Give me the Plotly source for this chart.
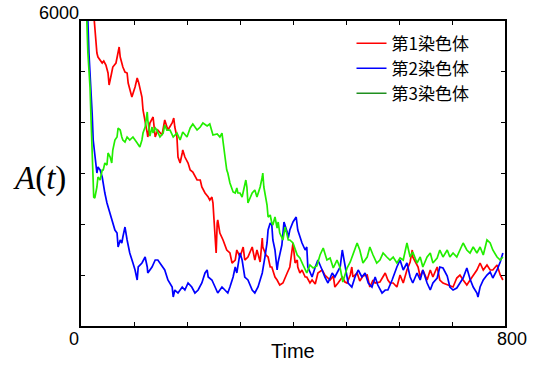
import plotly.graph_objects as go

# ---- data ----
red_t = [22, 26, 30, 32, 36, 40, 43, 47, 51, 53, 57, 60, 66, 70, 72, 74, 79, 83, 87, 89,
         92, 96, 102, 106, 109, 115, 117, 121, 125, 126, 130, 136, 140, 145, 153, 158, 164, 172, 175, 177,
         181, 183, 187, 191, 192, 196, 202, 206, 211, 219, 225, 228, 234, 240, 243, 247, 249, 251, 255, 257,
         258, 262, 268, 275, 281, 285, 291, 294, 300, 306, 309, 315, 323, 328, 332, 338, 342, 343, 349, 353,
         357, 360, 366, 370, 375, 381, 385, 389, 394, 400, 404, 408, 409, 413, 417, 423, 426, 432, 436, 442,
         447, 455, 460, 464, 470, 476, 479, 485, 493, 498, 502, 508, 511, 513, 521, 526, 532, 540, 545, 551,
         555, 564, 574, 579, 583, 589, 596, 602, 608, 615, 621, 625, 626, 636, 640, 645, 653, 659, 664, 672,
         677, 683, 693, 702, 709, 715, 721, 728, 738, 747, 753, 759, 766, 772, 777, 785, 791, 796]
red_a = [6400, 5823, 5370, 5291, 5232, 5173, 5213, 5134, 4977, 4741, 4937, 5095, 5173, 5370, 5488, 5291, 5095, 4996, 4977, 4780,
         4642, 4504, 4701, 4878, 4780, 4504, 4249, 4052, 3796, 3718, 3993, 4111, 3718, 3855, 3757, 4052, 3855, 3993, 4091, 3914,
         3718, 3324, 3206, 3403, 3462, 3324, 3206, 3069, 3029, 2872, 2872, 2734, 2616, 2537, 2478, 2537, 2419, 2085, 1436, 2026,
         2085, 1829, 1692, 1495, 1436, 1239, 1298, 1495, 1357, 1554, 1298, 1357, 1554, 1298, 1495, 1259, 1731, 1554, 1397, 1357,
         1161, 1161, 964, 905, 806, 846, 964, 1043, 1161, 1633, 1239, 1298, 1161, 1043, 1102, 964, 964, 846, 905, 826,
         1043, 1102, 1003, 964, 905, 984, 767, 846, 964, 866, 846, 1003, 1161, 964, 1043, 885, 984, 1003, 767, 905,
         846, 866, 1043, 905, 846, 846, 767, 1003, 846, 1102, 1259, 1495, 1357, 1161, 964, 1102, 905, 1102, 964, 1161,
         905, 846, 806, 767, 944, 1003, 905, 806, 964, 1102, 1239, 1102, 1200, 1102, 1102, 1200, 1003, 905]

blue_t = [9, 13, 15, 19, 21, 23, 25, 26, 30, 32, 36, 40, 43, 45, 49, 51, 55, 58, 60, 64,
          68, 70, 74, 77, 79, 83, 87, 89, 92, 98, 102, 106, 108, 115, 121, 125, 126, 134, 140, 145,
          153, 158, 164, 172, 174, 177, 183, 191, 196, 202, 209, 215, 221, 228, 234, 238, 240, 247, 253, 258,
          266, 272, 277, 281, 287, 291, 294, 300, 304, 306, 309, 315, 323, 328, 334, 338, 342, 347, 351, 353,
          357, 360, 362, 366, 370, 372, 375, 379, 383, 389, 391, 394, 400, 406, 409, 417, 423, 426, 428, 436,
          442, 447, 455, 460, 466, 474, 479, 489, 493, 498, 504, 511, 517, 523, 530, 536, 542, 549, 555, 560,
          568, 574, 579, 587, 592, 596, 602, 608, 615, 621, 626, 634, 640, 645, 653, 659, 664, 672, 677, 683,
          691, 696, 702, 709, 715, 721, 728, 734, 740, 747, 749, 753, 759, 766, 772, 777, 785, 791, 796]
blue_a = [6400, 6000, 5370, 4701, 4190, 3659, 3462, 3265, 3010, 3128, 3069, 2931, 2675, 2616, 2419, 2341, 2223, 2085, 2026, 1888,
          1829, 1554, 1692, 1633, 1751, 1947, 1692, 1554, 1436, 1239, 1102, 905, 1161, 1239, 1357, 1161, 1043, 1161, 1298, 1298,
          1161, 1102, 905, 767, 570, 708, 649, 767, 708, 846, 767, 649, 708, 846, 1043, 1102, 964, 905, 767, 649,
          767, 708, 649, 767, 964, 1161, 1043, 1436, 1298, 1161, 964, 905, 708, 649, 767, 905, 1043, 1357, 1633, 1888,
          2026, 1987, 1692, 1495, 1102, 1259, 1397, 1593, 2046, 1849, 1731, 1888, 2046, 2144, 1888, 1633, 1495, 1554, 1161, 964,
          1161, 1298, 1102, 964, 846, 1043, 964, 1161, 1495, 1161, 846, 767, 964, 1102, 964, 1043, 846, 767, 964, 806,
          649, 708, 708, 905, 1062, 1161, 1298, 1102, 1239, 964, 846, 1043, 905, 1102, 846, 708, 846, 944, 1161, 1141,
          984, 767, 708, 747, 846, 944, 1141, 925, 767, 649, 570, 767, 905, 1003, 1062, 944, 1102, 1259, 1436]

green_t = [6, 11, 13, 17, 19, 21, 23, 24, 26, 30, 32, 36, 40, 42, 45, 49, 51, 55, 58, 60,
           64, 68, 70, 74, 77, 79, 83, 87, 92, 96, 98, 106, 111, 115, 117, 121, 125, 126, 130, 134,
           136, 140, 143, 149, 155, 158, 162, 168, 174, 181, 187, 192, 200, 206, 211, 219, 225, 230, 238, 243,
           249, 257, 262, 266, 268, 272, 275, 277, 281, 285, 287, 291, 294, 296, 300, 304, 306, 311, 313, 315,
           323, 328, 332, 338, 342, 343, 345, 351, 353, 357, 360, 362, 366, 370, 372, 375, 381, 385, 389, 391,
           394, 400, 408, 413, 419, 426, 432, 438, 445, 451, 457, 464, 470, 476, 483, 489, 494, 502, 508, 513,
           521, 526, 532, 540, 545, 551, 558, 564, 570, 577, 583, 589, 596, 602, 608, 615, 621, 626, 634, 640,
           645, 653, 659, 664, 672, 677, 683, 691, 696, 702, 709, 715, 721, 728, 734, 740, 747, 753, 759, 766,
           772, 777, 785, 791, 796]
green_a = [6400, 6000, 5370, 4701, 4052, 3364, 2872, 2537, 2518, 2734, 2931, 2872, 3069, 3069, 3206, 3167, 3403, 3324, 3206, 3462,
           3659, 3718, 3895, 3855, 3718, 3659, 3619, 3718, 3659, 3698, 3718, 3600, 3521, 3659, 3796, 3914, 4210, 4052, 3737, 3914,
           3796, 3895, 3855, 3718, 3796, 3954, 3855, 3855, 3718, 3796, 3659, 3816, 3718, 3895, 3973, 3855, 3914, 3993, 3934, 3973,
           3757, 3777, 3718, 3796, 3600, 3305, 3069, 3010, 2813, 2675, 2636, 2616, 2714, 2616, 2616, 2537, 2636, 2872, 2734, 2419,
           2616, 2675, 2537, 2734, 2931, 3010, 2734, 2380, 2144, 2183, 2026, 1987, 2144, 1928, 2046, 1829, 1692, 1947, 1790, 1692,
           1692, 1633, 1397, 1338, 1200, 1043, 1200, 1141, 1180, 1397, 1534, 1298, 1338, 1141, 1298, 1141, 866, 1141, 1259, 1397,
           1633, 1495, 1239, 1357, 1554, 1397, 1239, 1298, 1436, 1357, 1298, 1357, 1239, 1338, 1298, 1633, 1357, 1456, 1239, 1357,
           1161, 1357, 1436, 1239, 1338, 1495, 1357, 1495, 1357, 1436, 1357, 1495, 1633, 1495, 1436, 1554, 1436, 1554, 1397, 1692,
           1633, 1495, 1357, 1298, 1357]

series_names = ["第1染色体", "第2染色体", "第3染色体"]
line_colors = ["#ff0000", "#0000ff", "#22ee00"]
legend_colors = ["#ff0000", "#0000ff", "#1f8f1f"]

x_tick_vals = [0, 100, 200, 300, 400, 500, 600, 700, 800]
y_tick_vals = [0, 1000, 2000, 3000, 4000, 5000, 6000]

fig = go.Figure()
for t, a, c in zip([red_t, blue_t, green_t], [red_a, blue_a, green_a], line_colors):
    fig.add_trace(go.Scatter(x=t, y=a, mode="lines", line=dict(color=c, width=1.7),
                             showlegend=False, hoverinfo="skip"))
for name, c in zip(series_names, legend_colors):
    fig.add_trace(go.Scatter(x=[None], y=[None], mode="lines", name=name,
                             line=dict(color=c, width=1.5)))

axis_common = dict(showgrid=False, zeroline=False, showline=True, linecolor="black", linewidth=1.5,
                   mirror="ticks", ticks="inside", ticklen=4, tickwidth=1, tickcolor="black",
                   showticklabels=False)
fig.update_xaxes(range=[0, 800], tickvals=x_tick_vals, **axis_common)
fig.update_yaxes(range=[0, 6000], tickvals=y_tick_vals, **axis_common)

lab_font = dict(family="Liberation Sans, Arial, sans-serif", size=18, color="black")
fig.update_layout(
    width=534, height=365,
    margin=dict(l=81, r=29, t=21, b=39),
    plot_bgcolor="white", paper_bgcolor="white",
    legend=dict(x=0.638, y=0.985, xanchor="left", yanchor="top", bgcolor="rgba(0,0,0,0)",
                borderwidth=0, font=dict(family="Noto Sans CJK JP", size=17, color="black"),
                tracegroupgap=0),
    annotations=[
        dict(text="6000", x=0, y=1, xref="paper", yref="paper", xanchor="right", yanchor="middle",
             showarrow=False, font=lab_font, xshift=0, yshift=8),
        dict(text="0", x=0, y=0, xref="paper", yref="paper", xanchor="center", yanchor="top",
             showarrow=False, font=lab_font, xshift=-7, yshift=-1),
        dict(text="800", x=1, y=0, xref="paper", yref="paper", xanchor="center", yanchor="top",
             showarrow=False, font=lab_font, xshift=7, yshift=-1),
        dict(text="Time", x=0.5, y=0, xref="paper", yref="paper", xanchor="center", yanchor="top",
             showarrow=False, font=dict(family="Liberation Sans, Arial, sans-serif", size=20, color="black"),
             yshift=-12),
        dict(text="<i>A</i>(<i>t</i>)", x=-0.097, y=0.485, xref="paper", yref="paper",
             xanchor="center", yanchor="middle", showarrow=False,
             font=dict(family="Liberation Serif, Times New Roman, serif", size=33, color="black")),
    ],
)

fig.write_html("out.html", config={"displayModeBar": False},
               post_script="document.body.style.margin='0';document.body.style.padding='0';")
